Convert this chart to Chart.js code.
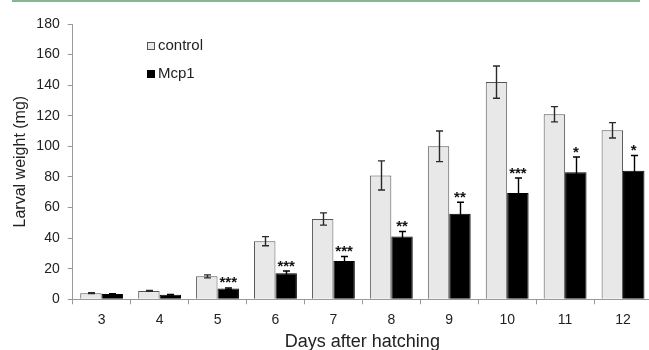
<!DOCTYPE html>
<html>
<head>
<meta charset="utf-8">
<script src="https://cdn.jsdelivr.net/npm/chart.js@4/dist/chart.umd.min.js"></script>
<style>
  html, body { margin: 0; padding: 0; background: #fff; overflow: hidden; width: 649px; height: 350px; }
  #wrap { position: relative; width: 649px; height: 350px; overflow: hidden; }
  #topline { position: absolute; left: 12px; top: 0; width: 628px; height: 2px; background: #86b592; }
  canvas { position: absolute; left: 0; top: 0; }
</style>
</head>
<body>
<div id="wrap">
  <canvas id="c" width="652" height="360" style="width:652px;height:360px"></canvas>
  <div id="topline"></div>
</div>
<script>
const days = ['3', '4', '5', '6', '7', '8', '9', '10', '11', '12'];
const controlValues = [4, 5.5, 15, 38, 52.5, 81, 100, 142, 121, 110.5];
const controlErrors = [0.3, 0.3, 1, 3, 4, 9.5, 10, 10.5, 5, 5];
const mcp1Values = [3.5, 3, 7, 17, 25, 41, 56, 69.5, 83, 84];
const mcp1Errors = [0.2, 0.2, 0.5, 1.5, 3, 3.3, 7.5, 9.8, 10, 10];
const significance = ['', '', '***', '***', '***', '**', '**', '***', '*', '*'];
const yTicks = [0, 20, 40, 60, 80, 100, 120, 140, 160, 180];

const FONT = '"Liberation Sans", Arial, Helvetica, sans-serif';
const errorsByDataset = [controlErrors, mcp1Errors];

const errorBarPlugin = {
  id: 'errorBars',
  afterDatasetsDraw(chart) {
    const ctx = chart.ctx;
    const yScale = chart.scales.y;
    ctx.save();
    chart.data.datasets.forEach((ds, di) => {
      const meta = chart.getDatasetMeta(di);
      const errs = errorsByDataset[di];
      meta.data.forEach((bar, i) => {
        const v = ds.data[i];
        const e = errs[i];
        const x = Math.round(bar.x) + 0.5;
        const yT = yScale.getPixelForValue(v + e);
        const yB = yScale.getPixelForValue(v - e);
        ctx.strokeStyle = di === 0 ? '#2a2a2a' : '#000';
        ctx.lineWidth = 1.4;
        ctx.beginPath();
        ctx.moveTo(x, yT); ctx.lineTo(x, yB);
        ctx.moveTo(x - 3.5, yT); ctx.lineTo(x + 3.5, yT);
        ctx.moveTo(x - 3.5, yB); ctx.lineTo(x + 3.5, yB);
        ctx.stroke();
        if (di === 1 && significance[i]) {
          ctx.fillStyle = '#111';
          ctx.font = 'bold 15px ' + FONT;
          ctx.textAlign = 'center';
          ctx.textBaseline = 'alphabetic';
          ctx.fillText(significance[i], bar.x, yT - 0.5);
        }
      });
    });
    ctx.restore();
  }
};

const legendPlugin = {
  id: 'innerLegend',
  afterDraw(chart) {
    const ctx = chart.ctx;
    ctx.save();
    const x0 = 147, ys = [46, 74];
    chart.data.datasets.forEach((ds, i) => {
      const y = ys[i];
      ctx.fillStyle = ds.backgroundColor;
      ctx.fillRect(x0, y - 4, 8, 8);
      ctx.strokeStyle = ds.borderColor;
      ctx.lineWidth = 1;
      ctx.strokeRect(x0 + 0.5, y - 3.5, 7, 7);
      ctx.fillStyle = '#222';
      ctx.font = '15px ' + FONT;
      ctx.textAlign = 'left';
      ctx.textBaseline = 'middle';
      ctx.fillText(ds.label, x0 + 11, y);
    });
    ctx.restore();
  }
};

new Chart(document.getElementById('c'), {
  type: 'bar',
  data: {
    labels: days,
    datasets: [
      { label: 'control', data: controlValues, backgroundColor: '#e8e8e8', borderColor: '#555', borderWidth: 1 },
      { label: 'Mcp1', data: mcp1Values, backgroundColor: '#000', borderColor: '#000', borderWidth: 1 }
    ]
  },
  options: {
    responsive: false,
    animation: false,
    devicePixelRatio: 1,
    categoryPercentage: 0.74,
    barPercentage: 1.0,
    layout: { padding: { top: 24, left: 0, right: 0, bottom: 0 } },
    plugins: { legend: { display: false }, tooltip: { enabled: false } },
    scales: {
      x: {
        grid: { drawOnChartArea: false, drawTicks: true, tickLength: 5, color: '#999', offset: true },
        border: { color: '#999', width: 1 },
        ticks: { color: '#222', font: { family: FONT, size: 14 }, padding: 7 },
        title: { display: true, text: 'Days after hatching', color: '#222', font: { family: FONT, size: 18 }, padding: { top: 0, bottom: 7.5 } },
        afterFit(s) { s.height = 360 - 299.3; }
      },
      y: {
        min: 0, max: 180,
        afterBuildTicks(s) { s.ticks = yTicks.map(v => ({ value: v })); },
        grid: { drawOnChartArea: false, drawTicks: true, tickLength: 5, color: '#999' },
        border: { color: '#999', width: 1 },
        ticks: { color: '#222', font: { family: FONT, size: 14 }, padding: 8 },
        title: { display: true, text: 'Larval weight (mg)', color: '#222', font: { family: FONT, size: 16 }, padding: { top: 11, bottom: 0 } },
        afterFit(s) { s.width = 72.7; }
      }
    }
  },
  plugins: [errorBarPlugin, legendPlugin]
});
</script>
</body>
</html>
